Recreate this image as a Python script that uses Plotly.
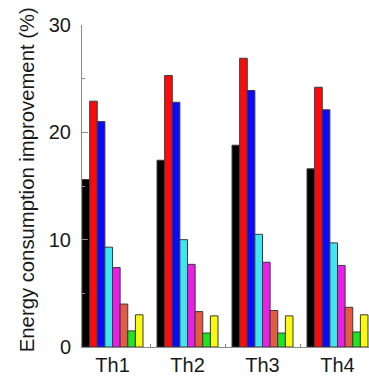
import plotly.graph_objects as go

# Threshold settings on the x axis
categories = ["Th1", "Th2", "Th3", "Th4"]

# Energy consumption improvement (%) for each scheme, one value per threshold
scheme_black = [15.6, 17.4, 18.8, 16.6]
scheme_red = [22.9, 25.3, 26.9, 24.2]
scheme_blue = [21.0, 22.8, 23.9, 22.1]
scheme_cyan = [9.3, 10.0, 10.5, 9.7]
scheme_magenta = [7.4, 7.7, 7.9, 7.6]
scheme_orange = [4.0, 3.3, 3.4, 3.7]
scheme_green = [1.5, 1.3, 1.3, 1.4]
scheme_yellow = [3.0, 2.9, 2.9, 3.0]

y_title = "Energy consumption improvement (%)"

series = [
    (scheme_black, "#000000"),
    (scheme_red, "#ff0a0a"),
    (scheme_blue, "#0a0aff"),
    (scheme_cyan, "#3fe6f2"),
    (scheme_magenta, "#ea1ee6"),
    (scheme_orange, "#e55a40"),
    (scheme_green, "#1ee61e"),
    (scheme_yellow, "#fafa10"),
]

fig = go.Figure()
for values, color in series:
    fig.add_trace(
        go.Bar(
            x=categories,
            y=values,
            marker=dict(color=color, line=dict(color="#3a3a3a", width=1)),
            showlegend=False,
        )
    )

font_family = "Liberation Sans, Arial, sans-serif"
text_color = "#1a1a1a"

fig.update_layout(
    width=369,
    height=378,
    margin=dict(l=82, r=0, t=25, b=30.5),
    paper_bgcolor="white",
    plot_bgcolor="white",
    barmode="group",
    bargap=0.187,
    bargroupgap=0,
    font=dict(family=font_family, color=text_color),
    xaxis=dict(
        range=[-0.407, 3.42],
        showline=True,
        linecolor="#8a8a8a",
        linewidth=1,
        ticks="inside",
        tickson="boundaries",
        ticklen=3,
        tickcolor="#8a8a8a",
        tickfont=dict(size=20, family=font_family, color=text_color),
        showgrid=False,
        zeroline=False,
    ),
    yaxis=dict(
        range=[0, 30],
        tickvals=[0, 10, 20, 30],
        showline=True,
        linecolor="#8a8a8a",
        linewidth=1,
        ticks="inside",
        ticklen=6,
        tickcolor="#8a8a8a",
        minor=dict(ticks="inside", ticklen=3, dtick=5, tickcolor="#8a8a8a", showgrid=False),
        tickfont=dict(size=20, family=font_family, color=text_color),
        ticklabelstandoff=6,
        showgrid=False,
        zeroline=False,
    ),
    # Rotated y-axis label, placed left of the tick labels
    annotations=[
        dict(
            text=y_title,
            textangle=-90,
            xref="paper",
            yref="paper",
            x=0,
            y=0.518,
            xanchor="center",
            yanchor="middle",
            xshift=-55,
            showarrow=False,
            font=dict(size=20.3, family=font_family, color=text_color),
        )
    ],
)

fig.write_html("out.html")
